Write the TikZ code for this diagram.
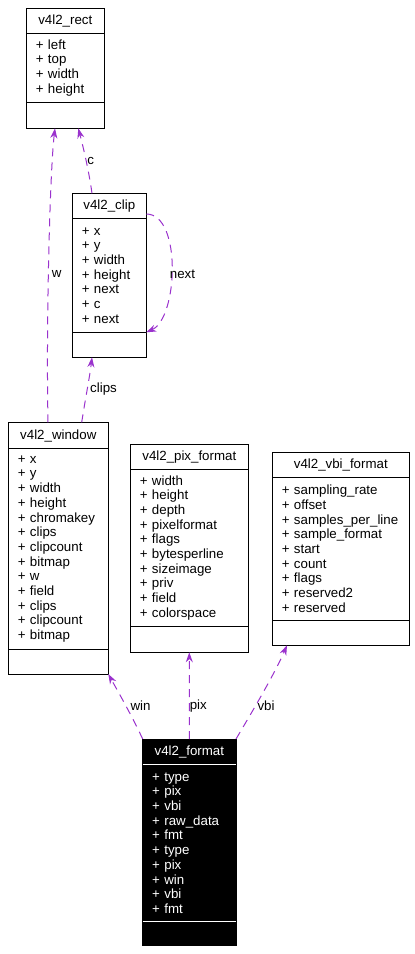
\documentclass[tikz,border=0pt]{standalone}
\usepackage{fontspec}
\setmainfont{Liberation Sans}
\usetikzlibrary{positioning,arrows.meta}
\definecolor{edgepurple}{HTML}{9A32CD}

\begin{document}
\begin{tikzpicture}[x=1pt, y=-1pt,
  every node/.style={font=\fontsize{13.3}{14.7}\selectfont, outer sep=0pt, inner sep=0pt},
  classname/.style={draw, line width=1pt},
  classattr/.style={classname, align=left, inner xsep=9.5pt},
  classops/.style={classname},
  darkclass/.style={fill=black, text=white},
  memberedge/.style={draw=edgepurple, line width=1pt, dash pattern=on 8pt off 6pt, -{Stealth[length=10pt, width=7pt]}},
  edgelabel/.style={inner sep=0pt}]
\useasboundingbox (0,0) rectangle (415,954);

% v4l2_rect
\node[classname, anchor=north west, minimum width=78pt, minimum height=25pt] (recttitle) at (26.3,8.3) {v4l2\_rect};
\node[classattr, text width=59pt, minimum height=69pt, below=0pt of recttitle] (rectattr) {+ left\\+ top\\+ width\\+ height};
\node[classops, minimum width=78pt, minimum height=26pt, below=0pt of rectattr] (rectops) {};

% v4l2_clip
\node[classname, anchor=north west, minimum width=74pt, minimum height=25.4pt] (cliptitle) at (72.3,193.3) {v4l2\_clip};
\node[classattr, text width=55pt, minimum height=113.6pt, below=0pt of cliptitle] (clipattr) {+ x\\+ y\\+ width\\+ height\\+ next\\+ c\\+ next};
\node[classops, minimum width=74pt, minimum height=25pt, below=0pt of clipattr] (clipops) {};

% v4l2_window
\node[classname, anchor=north west, minimum width=100pt, minimum height=26.4pt] (wintitle) at (8.3,422.3) {v4l2\_window};
\node[classattr, text width=81pt, minimum height=200.6pt, below=0pt of wintitle] (winattr) {+ x\\+ y\\+ width\\+ height\\+ chromakey\\+ clips\\+ clipcount\\+ bitmap\\+ w\\+ field\\+ clips\\+ clipcount\\+ bitmap};
\node[classops, minimum width=100pt, minimum height=24.7pt, below=0pt of winattr] (winops) {};

% v4l2_pix_format
\node[classname, anchor=north west, minimum width=118pt, minimum height=25pt] (pixtitle) at (130.3,444.3) {v4l2\_pix\_format};
\node[classattr, text width=99pt, minimum height=157pt, below=0pt of pixtitle] (pixattr) {+ width\\+ height\\+ depth\\+ pixelformat\\+ flags\\+ bytesperline\\+ sizeimage\\+ priv\\+ field\\+ colorspace};
\node[classops, minimum width=118pt, minimum height=26pt, below=0pt of pixattr] (pixops) {};

% v4l2_vbi_format
\node[classname, anchor=north west, minimum width=137pt, minimum height=25pt] (vbititle) at (272.3,452.3) {v4l2\_vbi\_format};
\node[classattr, text width=118pt, minimum height=143pt, below=0pt of vbititle] (vbiattr) {+ sampling\_rate\\+ offset\\+ samples\_per\_line\\+ sample\_format\\+ start\\+ count\\+ flags\\+ reserved2\\+ reserved};
\node[classops, minimum width=137pt, minimum height=25pt, below=0pt of vbiattr] (vbiops) {};

% v4l2_format
\node[classname, darkclass, anchor=north west, minimum width=93.3pt, minimum height=25.3pt] (fmttitle) at (142.7,739) {v4l2\_format};
\node[classattr, darkclass, text width=74.3pt, minimum height=157.4pt, below=0pt of fmttitle] (fmtattr) {+ type\\+ pix\\+ vbi\\+ raw\_data\\+ fmt\\+ type\\+ pix\\+ win\\+ vbi\\+ fmt};
\node[classops, darkclass, minimum width=93.3pt, minimum height=24pt, below=0pt of fmtattr] (fmtops) {};
\draw[white, line width=1pt] (fmtattr.north west) -- (fmtattr.north east);
\draw[white, line width=1pt] (fmtops.north west) -- (fmtops.north east);

% members
\draw[memberedge] ([xshift=39.7pt]wintitle.north west) .. controls (46,320) and (50,170) .. ([xshift=28.7pt]rectops.south west);
\draw[memberedge] ([xshift=19.7pt]cliptitle.north west) .. controls (89,172) and (84,150) .. ([xshift=52pt]rectops.south west);
\draw[memberedge] ([yshift=-8pt]cliptitle.east) .. controls (182,214) and (178,318) .. (clipattr.south east);
\draw[memberedge] ([xshift=73.4pt]wintitle.north west) .. controls (86,395) and (90,375) .. ([xshift=19.7pt]clipops.south west);
\draw[memberedge] (fmttitle.north west) .. controls (130,712) and (116,688) .. (winops.south east);
\draw[memberedge] (fmttitle.north) -- (pixops.south);
\draw[memberedge] (fmttitle.north east) .. controls (252,712) and (274,675) .. ([xshift=14.7pt]vbiops.south west);

\node[edgelabel] (lblw) at (56.7,274) {w};
\node[edgelabel] (lblc) at (90.7,161) {c};
\node[edgelabel] (lblnext) at (182.5,274) {next};
\node[edgelabel] (lblclips) at (103.5,389) {clips};
\node[edgelabel] (lblwin) at (140.5,706) {win};
\node[edgelabel] (lblpix) at (198.3,706) {pix};
\node[edgelabel] (lblvbi) at (266,706) {vbi};
\end{tikzpicture}
\end{document}
